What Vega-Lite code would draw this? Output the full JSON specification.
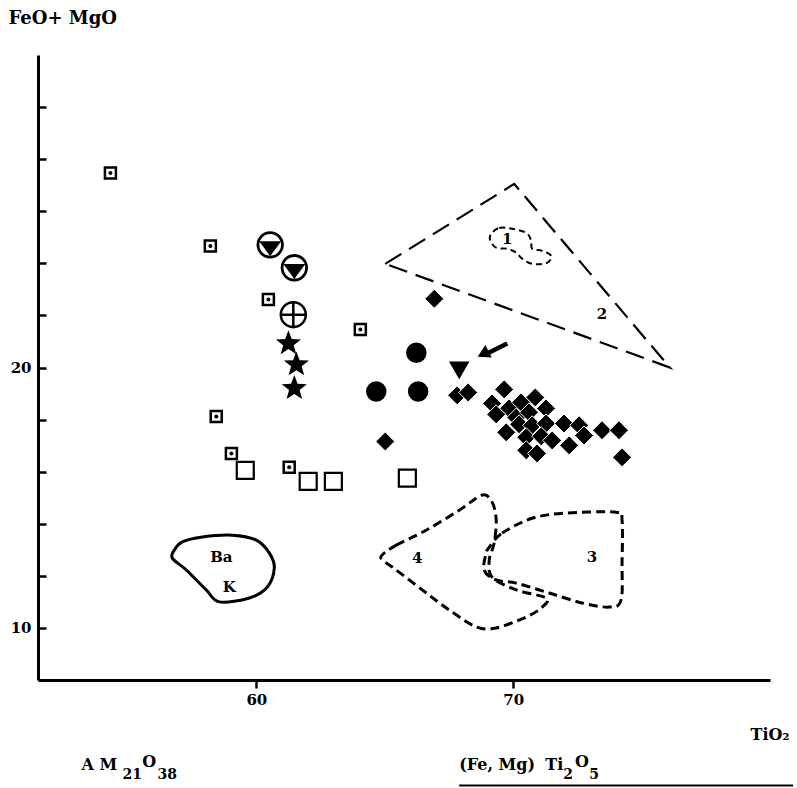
{
  "$schema": "https://vega.github.io/schema/vega-lite/v6.json",
  "width": 732,
  "height": 625,
  "autosize": {"type": "none"},
  "padding": {"left": 38, "top": 55, "right": 27, "bottom": 108},
  "background": "white",
  "config": {
    "view": {"stroke": null},
    "font": "DejaVu Serif",
    "text": {"font": "DejaVu Serif", "fontWeight": "bold", "color": "black"}
  },
  "datasets": {
    "dsq": [
      {"x": 54.32, "y": 27.47}, {"x": 58.21, "y": 24.67}, {"x": 60.47, "y": 22.61},
      {"x": 64.05, "y": 21.46}, {"x": 58.44, "y": 18.12}, {"x": 59.03, "y": 16.70},
      {"x": 61.28, "y": 16.17}
    ],
    "osq": [
      {"x": 59.57, "y": 16.05}, {"x": 62.02, "y": 15.63}, {"x": 63.00, "y": 15.63}, {"x": 65.88, "y": 15.75}
    ],
    "ctri": [{"x": 60.54, "y": 24.71}, {"x": 61.48, "y": 23.83}],
    "ccross": [{"x": 61.44, "y": 22.03}],
    "stars": [{"x": 61.25, "y": 20.92}, {"x": 61.56, "y": 20.11}, {"x": 61.48, "y": 19.20}],
    "fcirc": [{"x": 66.23, "y": 20.57}, {"x": 64.67, "y": 19.08}, {"x": 66.30, "y": 19.08}],
    "ftri": [{"x": 67.90, "y": 19.89}],
    "diam": [
      {"x": 66.93, "y": 22.64}, {"x": 65.02, "y": 17.16},
      {"x": 67.82, "y": 18.93}, {"x": 68.25, "y": 19.04}, {"x": 69.65, "y": 19.16},
      {"x": 69.18, "y": 18.62}, {"x": 69.84, "y": 18.43}, {"x": 70.31, "y": 18.66},
      {"x": 70.86, "y": 18.85}, {"x": 69.34, "y": 18.20}, {"x": 70.12, "y": 18.08},
      {"x": 70.62, "y": 18.28}, {"x": 71.28, "y": 18.43}, {"x": 69.73, "y": 17.51},
      {"x": 70.23, "y": 17.82}, {"x": 70.74, "y": 17.78}, {"x": 71.28, "y": 17.85},
      {"x": 71.98, "y": 17.85}, {"x": 72.57, "y": 17.78}, {"x": 72.76, "y": 17.39},
      {"x": 70.51, "y": 17.32}, {"x": 71.09, "y": 17.36}, {"x": 71.52, "y": 17.20},
      {"x": 72.18, "y": 17.01}, {"x": 70.51, "y": 16.82}, {"x": 70.93, "y": 16.70},
      {"x": 73.46, "y": 17.59}, {"x": 74.12, "y": 17.59}, {"x": 74.24, "y": 16.55}
    ],
    "arrowRule": [{"x": 69.77, "y": 20.92, "x2": 68.91, "y2": 20.50}],
    "arrowHead": [{"x": 68.83, "y": 20.52}],
    "tri2": [
      {"i": 0, "x": 65.02, "y": 23.98}, {"i": 1, "x": 70.04, "y": 27.05}, {"i": 2, "x": 76.1, "y": 20.0}
    ],
    "blob1": [
      {"i": 0, "x": 69.14, "y": 25.13}, {"i": 1, "x": 69.46, "y": 25.36}, {"i": 2, "x": 69.96, "y": 25.33},
      {"i": 3, "x": 70.51, "y": 25.17}, {"i": 4, "x": 70.70, "y": 24.87}, {"i": 5, "x": 70.74, "y": 24.56},
      {"i": 6, "x": 71.13, "y": 24.48}, {"i": 7, "x": 71.48, "y": 24.29}, {"i": 8, "x": 71.32, "y": 24.02},
      {"i": 9, "x": 70.74, "y": 23.98}, {"i": 10, "x": 70.35, "y": 24.18}, {"i": 11, "x": 70.12, "y": 24.41},
      {"i": 12, "x": 69.77, "y": 24.56}, {"i": 13, "x": 69.34, "y": 24.60}, {"i": 14, "x": 69.11, "y": 24.87}
    ],
    "bak": [
      {"i": 0, "x": 56.81, "y": 12.99}, {"i": 1, "x": 57.12, "y": 13.30}, {"i": 2, "x": 57.90, "y": 13.49},
      {"i": 3, "x": 59.07, "y": 13.56}, {"i": 4, "x": 60.00, "y": 13.37}, {"i": 5, "x": 60.51, "y": 12.87},
      {"i": 6, "x": 60.70, "y": 12.30}, {"i": 7, "x": 60.43, "y": 11.57}, {"i": 8, "x": 59.73, "y": 11.15},
      {"i": 9, "x": 58.56, "y": 11.00}, {"i": 10, "x": 58.05, "y": 11.46}, {"i": 11, "x": 57.28, "y": 12.22},
      {"i": 12, "x": 56.73, "y": 12.68}
    ],
    "reg34": [
      {"id": "4", "i": 0, "x": 64.90, "y": 12.80}, {"id": "4", "i": 1, "x": 65.45, "y": 13.18},
      {"id": "4", "i": 2, "x": 66.61, "y": 13.75}, {"id": "4", "i": 3, "x": 67.90, "y": 14.52},
      {"id": "4", "i": 4, "x": 68.79, "y": 15.10}, {"id": "4", "i": 5, "x": 69.18, "y": 14.83},
      {"id": "4", "i": 6, "x": 69.34, "y": 14.14}, {"id": "4", "i": 7, "x": 69.26, "y": 13.26},
      {"id": "4", "i": 8, "x": 69.07, "y": 12.61}, {"id": "4", "i": 9, "x": 69.18, "y": 11.95},
      {"id": "4", "i": 10, "x": 70.12, "y": 11.46}, {"id": "4", "i": 11, "x": 71.28, "y": 11.15},
      {"id": "4", "i": 12, "x": 71.13, "y": 10.80}, {"id": "4", "i": 13, "x": 70.51, "y": 10.42},
      {"id": "4", "i": 14, "x": 69.34, "y": 10.00}, {"id": "4", "i": 15, "x": 68.56, "y": 10.04},
      {"id": "4", "i": 16, "x": 67.51, "y": 10.69}, {"id": "4", "i": 17, "x": 66.46, "y": 11.46},
      {"id": "4", "i": 18, "x": 65.29, "y": 12.34}, {"id": "4", "i": 19, "x": 64.90, "y": 12.61},
      {"id": "3", "i": 0, "x": 69.07, "y": 13.10}, {"id": "3", "i": 1, "x": 69.57, "y": 13.64},
      {"id": "3", "i": 2, "x": 70.74, "y": 14.21}, {"id": "3", "i": 3, "x": 72.06, "y": 14.41},
      {"id": "3", "i": 4, "x": 74.01, "y": 14.44}, {"id": "3", "i": 5, "x": 74.24, "y": 14.14},
      {"id": "3", "i": 6, "x": 74.24, "y": 12.49}, {"id": "3", "i": 7, "x": 74.20, "y": 11.07},
      {"id": "3", "i": 8, "x": 73.74, "y": 10.80}, {"id": "3", "i": 9, "x": 72.68, "y": 10.96},
      {"id": "3", "i": 10, "x": 71.40, "y": 11.34}, {"id": "3", "i": 11, "x": 70.12, "y": 11.72},
      {"id": "3", "i": 12, "x": 69.34, "y": 11.84}, {"id": "3", "i": 13, "x": 68.87, "y": 12.22},
      {"id": "3", "i": 14, "x": 68.95, "y": 12.87}
    ],
    "inLabels": [
      {"x": 69.77, "y": 24.94, "t": "1"}, {"x": 73.46, "y": 22.07, "t": "2"},
      {"x": 73.07, "y": 12.72, "t": "3"}, {"x": 66.26, "y": 12.68, "t": "4"},
      {"x": 58.64, "y": 12.72, "t": "Ba"}, {"x": 58.95, "y": 11.57, "t": "K"}
    ],
    "endMain": [
      {"x": 53.19, "y": 4.56, "t": "A M"},
      {"x": 55.56, "y": 4.67, "t": "O"},
      {"x": 67.90, "y": 4.56, "t": "(Fe, Mg)"},
      {"x": 71.25, "y": 4.56, "t": "Ti"},
      {"x": 72.41, "y": 4.67, "t": "O"}
    ],
    "endSub": [
      {"x": 54.79, "y": 4.18, "t": "21"},
      {"x": 56.15, "y": 4.18, "t": "38"},
      {"x": 71.95, "y": 4.18, "t": "2"},
      {"x": 72.96, "y": 4.18, "t": "5"}
    ],
    "bottomLine": [{"x": 67.90, "x2": 80.9, "y": 3.95}]
  },
  "encoding": {
    "x": {
      "field": "x", "type": "quantitative",
      "scale": {"domain": [51.5, 80], "nice": false, "zero": false},
      "axis": {
        "values": [60, 70], "grid": false,
        "domainColor": "black", "domainWidth": 3,
        "tickColor": "black", "tickWidth": 2.5, "tickSize": 8,
        "labelFont": "DejaVu Serif", "labelFontWeight": "bold", "labelFontSize": 15, "labelColor": "black",
        "labelPadding": 4,
        "title": "TiO₂", "titleFont": "DejaVu Serif", "titleFontWeight": "bold", "titleFontSize": 16,
        "titleColor": "black", "titleAlign": "left", "titleBaseline": "alphabetic",
        "titleX": 712, "titleY": 59
      }
    },
    "y": {
      "field": "y", "type": "quantitative",
      "scale": {"domain": [8, 32], "nice": false, "zero": false},
      "axis": {
        "values": [10, 12, 14, 16, 18, 20, 22, 24, 26, 28, 30], "grid": false,
        "labelExpr": "datum.value == 10 || datum.value == 20 ? datum.label : ''",
        "domainColor": "black", "domainWidth": 3,
        "tickColor": "black", "tickWidth": 2.5, "tickSize": -8,
        "labelFont": "DejaVu Serif", "labelFontWeight": "bold", "labelFontSize": 15, "labelColor": "black",
        "labelPadding": 15,
        "title": "FeO+ MgO", "titleFont": "DejaVu Serif", "titleFontWeight": "bold", "titleFontSize": 18,
        "titleColor": "black", "titleAngle": 0, "titleAlign": "left", "titleBaseline": "alphabetic",
        "titleX": -30, "titleY": -32
      }
    }
  },
  "layer": [
    {"data": {"name": "tri2"}, "mark": {"type": "line", "interpolate": "linear-closed", "stroke": "black", "strokeWidth": 2.2, "strokeDash": [19, 9]},
     "encoding": {"order": {"field": "i", "type": "quantitative"}}},
    {"data": {"name": "blob1"}, "mark": {"type": "line", "interpolate": "cardinal-closed", "stroke": "black", "strokeWidth": 2, "strokeDash": [6, 4]},
     "encoding": {"order": {"field": "i", "type": "quantitative"}}},
    {"data": {"name": "bak"}, "mark": {"type": "line", "interpolate": "cardinal-closed", "stroke": "black", "strokeWidth": 3},
     "encoding": {"order": {"field": "i", "type": "quantitative"}}},
    {"data": {"name": "reg34"}, "mark": {"type": "line", "interpolate": "cardinal-closed", "stroke": "black", "strokeWidth": 3, "strokeDash": [9, 5]},
     "encoding": {"order": {"field": "i", "type": "quantitative"}, "detail": {"field": "id", "type": "nominal"}}},
    {"data": {"name": "dsq"}, "mark": {"type": "point", "shape": "square", "size": 121, "filled": true, "fill": "white", "stroke": "black", "strokeWidth": 2.5, "opacity": 1}},
    {"data": {"name": "dsq"}, "mark": {"type": "point", "shape": "circle", "size": 16, "filled": true, "fill": "black", "opacity": 1}},
    {"data": {"name": "osq"}, "mark": {"type": "point", "shape": "square", "size": 289, "filled": true, "fill": "white", "stroke": "black", "strokeWidth": 2.2, "opacity": 1}},
    {"data": {"name": "ctri"}, "mark": {"type": "point", "shape": "circle", "size": 600, "filled": true, "fill": "white", "stroke": "black", "strokeWidth": 2.8, "opacity": 1}},
    {"data": {"name": "ctri"}, "mark": {"type": "point", "shape": "M-0.9,-0.3L0.9,-0.3L0,0.92Z", "size": 600, "filled": true, "fill": "black", "opacity": 1}},
    {"data": {"name": "ccross"}, "mark": {"type": "point", "shape": "circle", "size": 625, "filled": true, "fill": "white", "stroke": "black", "strokeWidth": 2.5, "opacity": 1}},
    {"data": {"name": "ccross"}, "mark": {"type": "point", "shape": "M-1,0L1,0M0,-1L0,1", "size": 625, "filled": false, "stroke": "black", "strokeWidth": 2.5, "opacity": 1}},
    {"data": {"name": "stars"}, "mark": {"type": "point", "shape": "M0,-1L0.247,-0.34L0.951,-0.309L0.399,0.13L0.588,0.809L0,0.42L-0.588,0.809L-0.399,0.13L-0.951,-0.309L-0.247,-0.34Z", "size": 700, "filled": true, "fill": "black", "opacity": 1}},
    {"data": {"name": "fcirc"}, "mark": {"type": "point", "shape": "circle", "size": 420, "filled": true, "fill": "black", "opacity": 1}},
    {"data": {"name": "ftri"}, "mark": {"type": "point", "shape": "triangle-down", "size": 420, "filled": true, "fill": "black", "opacity": 1}},
    {"data": {"name": "diam"}, "mark": {"type": "point", "shape": "diamond", "size": 360, "filled": true, "fill": "black", "stroke": "white", "strokeWidth": 1, "opacity": 1}},
    {"data": {"name": "arrowRule"}, "mark": {"type": "rule", "stroke": "black", "strokeWidth": 4.5},
     "encoding": {"x2": {"field": "x2"}, "y2": {"field": "y2"}}},
    {"data": {"name": "arrowHead"}, "mark": {"type": "point", "shape": "triangle-up", "size": 200, "angle": 243, "filled": true, "fill": "black", "opacity": 1}},
    {"data": {"name": "inLabels"}, "mark": {"type": "text", "fontSize": 15, "align": "center", "baseline": "middle"},
     "encoding": {"text": {"field": "t"}}},
    {"data": {"name": "endMain"}, "mark": {"type": "text", "fontSize": 16, "align": "left", "baseline": "alphabetic"},
     "encoding": {"text": {"field": "t"}}},
    {"data": {"name": "endSub"}, "mark": {"type": "text", "fontSize": 14, "align": "left", "baseline": "alphabetic"},
     "encoding": {"text": {"field": "t"}}},
    {"data": {"name": "bottomLine"}, "mark": {"type": "rule", "stroke": "black", "strokeWidth": 2},
     "encoding": {"x2": {"field": "x2"}}}
  ]
}
